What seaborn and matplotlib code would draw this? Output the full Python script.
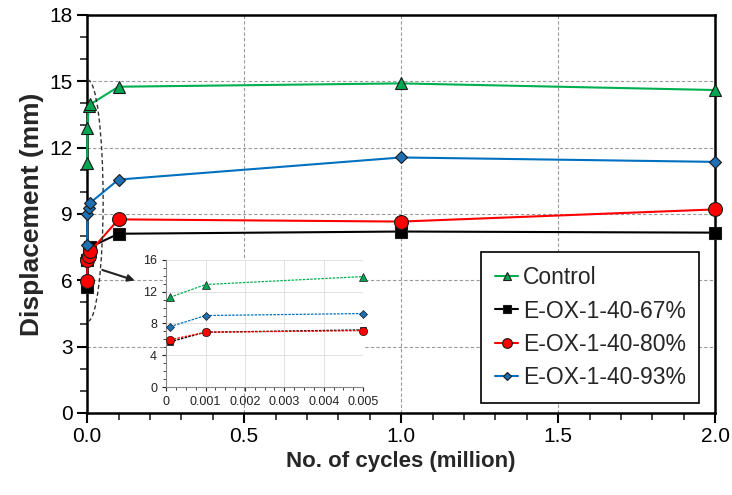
import numpy as np
import pandas as pd
import seaborn as sns
import matplotlib
import matplotlib.pyplot as plt
from matplotlib.patches import Ellipse
from matplotlib.ticker import MultipleLocator

sns.set_style('ticks')
plt.rcParams['font.family'] = ['Liberation Sans', 'DejaVu Sans']

# data (cycles in million, displacement in mm)
series_names = ['Control', 'E-OX-1-40-67%', 'E-OX-1-40-80%', 'E-OX-1-40-93%']
x_control = [0.0001, 0.001, 0.005, 0.01, 0.1, 1.0, 2.0]
y_control = [11.3, 12.9, 13.9, 13.95, 14.75, 14.9, 14.6]
x_67 = [0.0001, 0.001, 0.005, 0.01, 0.1, 1.0, 2.0]
y_67 = [5.7, 6.9, 7.2, 7.5, 8.1, 8.2, 8.15]
x_80 = [0.0001, 0.001, 0.005, 0.01, 0.1, 1.0, 2.0]
y_80 = [5.95, 6.9, 7.1, 7.3, 8.75, 8.65, 9.2]
x_93 = [0.0001, 0.001, 0.005, 0.01, 0.1, 1.0, 2.0]
y_93 = [7.6, 9.0, 9.25, 9.5, 10.55, 11.55, 11.35]
inset_max = 0.005

xs = [x_control, x_67, x_80, x_93]
ys = [y_control, y_67, y_80, y_93]
line_colors = ['#00B050', '#000000', '#FF0000', '#0070C0']
face_colors = ['#00A650', '#000000', '#FF0000', '#1F6FB4']
markers = ['^', 's', 'o', 'D']
msizes = [9, 8, 10, 6.5]

fig = plt.figure(figsize=(7.32, 4.95), dpi=100)
ax = fig.add_axes([0.119, 0.166, 0.858, 0.804])

for name, x, y, lc, fc, m, ms in zip(series_names, xs, ys, line_colors, face_colors, markers, msizes):
    df = pd.DataFrame({'x': x, 'y': y})
    sns.lineplot(data=df, x='x', y='y', ax=ax, color=lc, lw=1.5, marker=m,
                 markersize=ms, markerfacecolor=fc, markeredgecolor='#1a1a1a',
                 markeredgewidth=0.8, sort=False, label=name, zorder=3, clip_on=False)

ax.set_xlim(0, 2.0)
ax.set_ylim(0, 18)
ax.xaxis.set_major_locator(MultipleLocator(0.5))
ax.xaxis.set_minor_locator(MultipleLocator(0.1))
ax.yaxis.set_major_locator(MultipleLocator(3))
ax.yaxis.set_minor_locator(MultipleLocator(1))
ax.xaxis.set_major_formatter(matplotlib.ticker.FormatStrFormatter('%.1f'))
ax.tick_params(which='major', direction='out', length=7, width=1.5, labelsize=15, colors='black')
ax.tick_params(which='minor', direction='out', length=5, width=1.2)
ax.grid(True, which='major', color='#999999', linestyle=(0, (3, 2)), lw=0.8)
for sp in ax.spines.values():
    sp.set_visible(True)
    sp.set_linewidth(1.8)
    sp.set_color('black')
ax.set_xlabel('No. of cycles (million)', fontsize=16, fontweight='bold', labelpad=3)
ax.set_ylabel('Displacement (mm)', fontsize=19, fontweight='bold', labelpad=4)

leg = ax.legend(loc='lower right', bbox_to_anchor=(0.975, 0.025), fontsize=16.5,
                frameon=True, fancybox=False, edgecolor='black', handlelength=1.0,
                handletextpad=0.2, borderpad=0.6, labelspacing=0.45, markerscale=0.7,
                borderaxespad=0)
leg.get_frame().set_linewidth(1.2)
leg.get_frame().set_alpha(1)

# dashed ellipse around the early-cycle data and the arrow to the inset
ell = Ellipse((0.003, 9.6), 0.096, 10.9, fill=False, ls=(0, (3, 2)), lw=1.0, ec='#333333', zorder=4)
ax.add_patch(ell)
ax.annotate('', xy=(0.16, 5.95), xytext=(0.04, 6.5),
            arrowprops=dict(arrowstyle='-|>', color='#222222', lw=1.5), zorder=5)

# inset: first cycles only
axi = fig.add_axes([0.227, 0.218, 0.269, 0.257])
for name, x, y, lc, fc, m, ms in zip(series_names, xs, ys, line_colors, face_colors, markers, msizes):
    df = pd.DataFrame({'x': x, 'y': y})
    df = df[df['x'] <= inset_max]
    sns.lineplot(data=df, x='x', y='y', ax=axi, color=lc, lw=0.9, ls=(0, (2, 1)), marker=m,
                 markersize=ms * 0.6, markerfacecolor=fc, markeredgecolor='#1a1a1a',
                 markeredgewidth=0.5, sort=False, legend=False, zorder=3, clip_on=False)
axi.set_xlim(0, inset_max)
axi.set_ylim(0, 16)
axi.xaxis.set_major_locator(MultipleLocator(0.001))
axi.xaxis.set_minor_locator(MultipleLocator(0.00025))
axi.yaxis.set_major_locator(MultipleLocator(4))
axi.yaxis.set_minor_locator(MultipleLocator(1))
axi.xaxis.set_major_formatter(matplotlib.ticker.FuncFormatter(lambda v, p: '0' if v == 0 else f'{v:.3f}'))
axi.tick_params(which='major', direction='out', length=3, width=0.8, labelsize=9, colors='#222222')
axi.tick_params(which='minor', direction='out', length=2, width=0.6)
axi.grid(True, which='major', color='#dddddd', lw=0.6)
axi.set_xlabel('')
axi.set_ylabel('')
axi.set_facecolor('white')
for sp in ['left', 'bottom']:
    axi.spines[sp].set_color('#888888')
    axi.spines[sp].set_linewidth(0.8)
for sp in ['top', 'right']:
    axi.spines[sp].set_visible(False)

fig.savefig('out.png', dpi=100)
